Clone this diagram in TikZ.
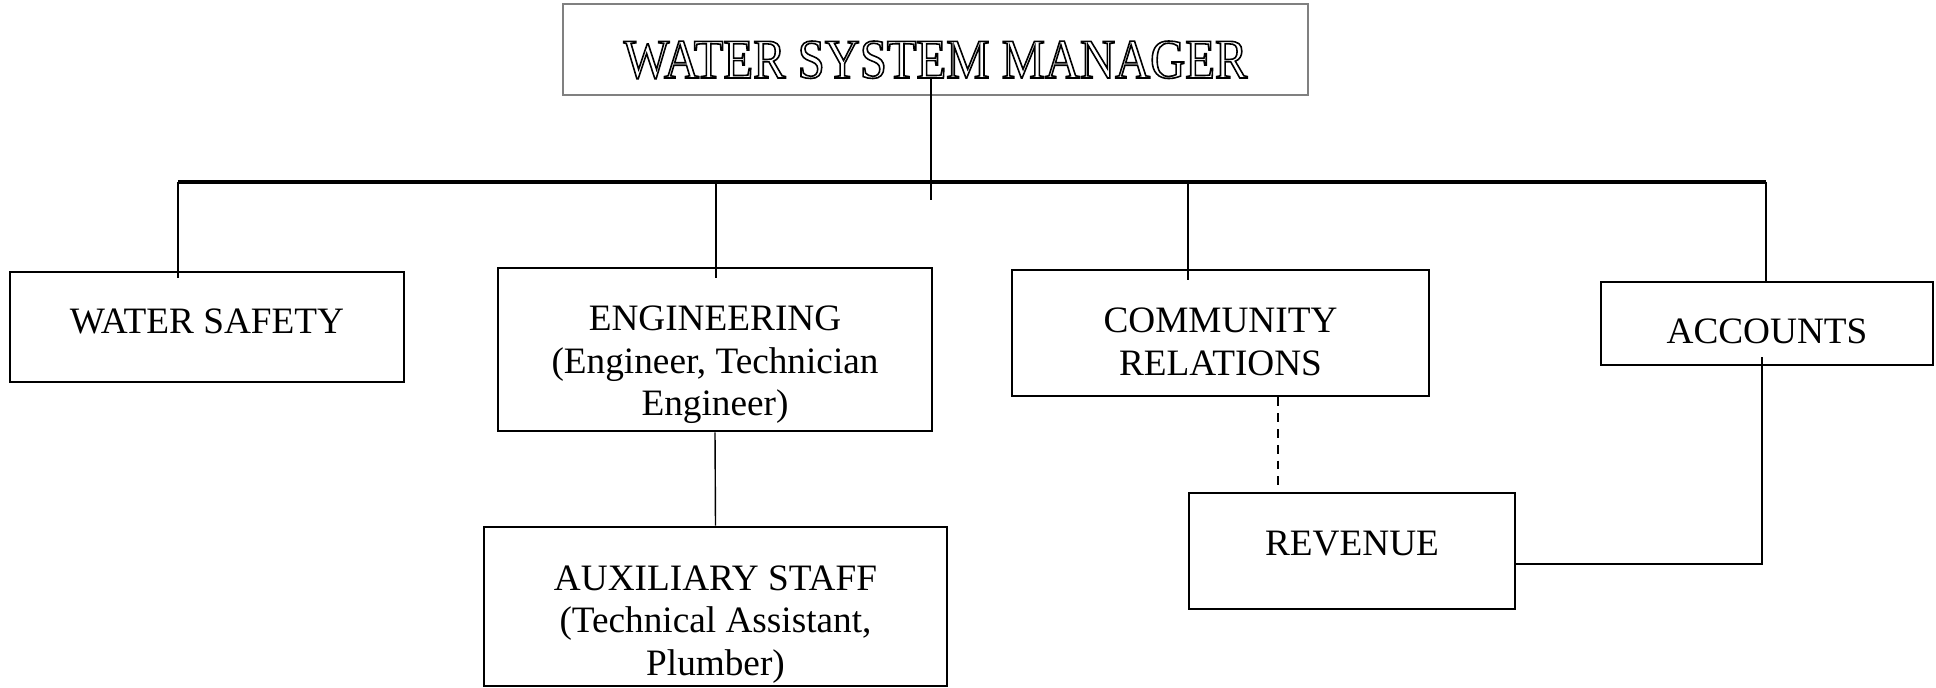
\documentclass[tikz,border=0pt]{standalone}
\usepackage{fontspec}
\setmainfont{Liberation Serif}
\newfontfamily\titlefont[FakeStretch=0.87]{Liberation Serif}
\usepackage{tikz}
\tikzset{
    every node/.style={rectangle, draw, line width=0.8pt, align=center,
    	inner sep=0pt, font=\fontsize{10.6}{12.1}\selectfont}
}
\tikzset{
    sink/.style={text height=#1, text depth=0pt}
}
\tikzset{
    link/.style={line width=0.4pt},
    busline/.style={line width=1pt}
}
\newcommand{\outlined}[1]{\special{pdf:literal direct 1 Tr 0.45 w}#1\special{pdf:literal direct 0 Tr}}

\begin{document}
\begin{tikzpicture}
  \useasboundingbox (0cm,0cm) rectangle (19.36cm,-6.88cm);

  \node (mgr) [draw=gray, minimum width=7.45cm, minimum height=0.91cm, sink=5.7mm,
  	font=\titlefont\fontsize{15.9}{18}\selectfont] at (9.355cm,-0.495cm) {\outlined{WATER SYSTEM MANAGER}};
  
  \node (safety) [minimum width=3.94cm, minimum height=1.10cm, sink=1.3mm] at (2.07cm,-3.27cm) {WATER SAFETY};
  
  \node (eng) [minimum width=4.34cm, minimum height=1.63cm, sink=13.3mm] at (7.15cm,-3.495cm) {ENGINEERING\\(Engineer, Technician\\Engineer)};
  
  \node (comm) [minimum width=4.17cm, minimum height=1.26cm, sink=8.5mm] at (12.205cm,-3.33cm) {COMMUNITY\\RELATIONS};
  
  \node (acc) [minimum width=3.32cm, minimum height=0.83cm, sink=4mm] at (17.67cm,-3.235cm) {ACCOUNTS};
  
  \node (aux) [minimum width=4.63cm, minimum height=1.59cm, sink=13.8mm] at (7.155cm,-6.065cm) {AUXILIARY STAFF\\(Technical Assistant,\\Plumber)};
  
  \node (rev) [minimum width=3.26cm, minimum height=1.16cm, sink=0.94mm] at (13.52cm,-5.51cm) {REVENUE};
  
  \coordinate (mgr-stem) at (9.31cm,-0.77cm);
  \coordinate (mgr-end) at (9.31cm,-2.0cm);
  \coordinate (bus-safety) at (1.78cm,-1.82cm);
  \coordinate (bus-eng) at (7.16cm,-1.82cm);
  \coordinate (bus-comm) at (11.88cm,-1.82cm);
  \coordinate (bus-acc) at (17.66cm,-1.82cm);
  
  \draw [link] (mgr-stem) -- (mgr-end);
  \draw [busline] (bus-safety) -- (bus-acc);
  \draw [link] (bus-safety) -- ([yshift=-0.7mm]bus-safety |- safety.north);
  \draw [link] (bus-eng) -- ([yshift=-1.1mm]bus-eng |- eng.north);
  \draw [link] (bus-comm) -- ([yshift=-1.1mm]bus-comm |- comm.north);
  \draw [link] (bus-acc) -- (bus-acc |- acc.north);
  \draw [link] (eng.south) -- (aux.north);
  \draw [link, dash pattern=on 2.5pt off 2pt] ([xshift=5.75mm]comm.south) -- ([xshift=5.75mm]comm.south |- rev.north);
  \draw [link] ([xshift=-0.5mm,yshift=0.9mm]acc.south) |- ([yshift=-1.3mm]rev.east);
\end{tikzpicture}
\end{document}
